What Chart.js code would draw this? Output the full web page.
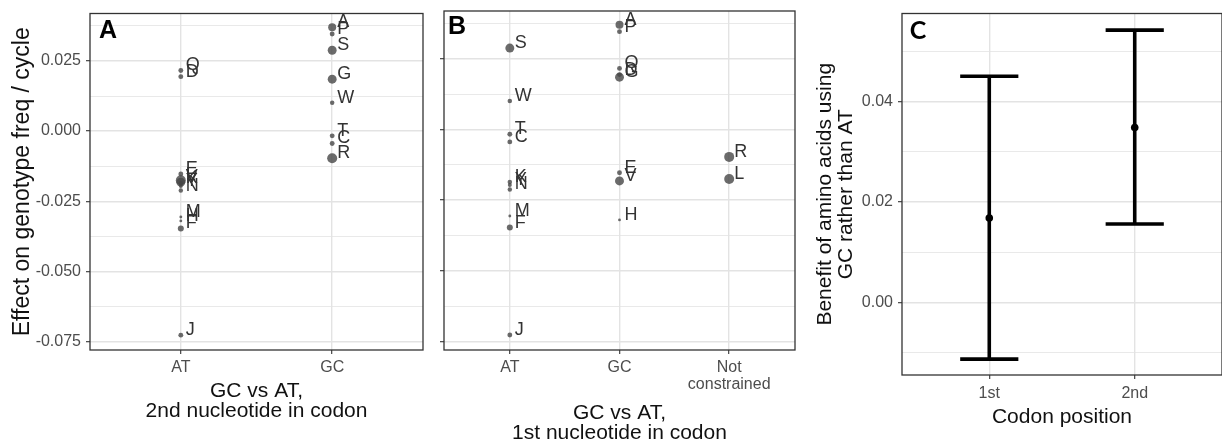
<!DOCTYPE html>
<html><head><meta charset="utf-8">
<script src="https://cdn.jsdelivr.net/npm/chart.js@4.4.1/dist/chart.umd.min.js"></script>
<style>
html,body{margin:0;padding:0;background:#fff;overflow:hidden;width:1222px;height:441px;}
.panel{position:absolute;top:0;height:441px;}
</style></head><body>
<div class="panel" style="left:0;width:440px"><canvas id="ca"></canvas></div>
<div class="panel" style="left:436px;width:364px"><canvas id="cb"></canvas></div>
<div class="panel" style="left:780px;width:446px"><canvas id="cc"></canvas></div>
<script>
// ---------------- data ----------------
const aminoAcids = ['A','P','S','Q','D','G','W','T','C','R','E','L','K','V','Y','N','M','H','F','J'];
const effect = [0.0370,0.0346,0.0288,0.0216,0.0194,0.0185,0.0101,-0.0017,-0.0044,-0.0097,-0.0153,-0.0175,-0.0186,-0.0182,-0.0196,-0.0212,-0.0306,-0.0320,-0.0347,-0.0727];
const weight = [16,6,20,6,6,20,5,6,6,25,6,25,5,20,4,5,2,2,9,6];
const secondNucleotide = ['GC','GC','GC','AT','AT','GC','GC','GC','GC','GC','AT','AT','AT','AT','AT','AT','AT','AT','AT','AT'];
const firstNucleotide = ['GC','GC','AT','GC','GC','GC','AT','AT','AT','Not constrained','GC','Not constrained','AT','GC','AT','AT','AT','GC','AT','AT'];
const categoriesA = ['AT','GC'];
const categoriesB = ['AT','GC','Not constrained'];
const tickLabelsA = ['AT','GC'];
const tickLabelsB = ['AT','GC',['Not','constrained']];
const effectMajorTicks = [-0.075,-0.05,-0.025,0,0.025];
const effectMinorTicks = [-0.0625,-0.0375,-0.0125,0.0125,0.0375];

const codonPositions = ['1st','2nd'];
const benefitMean = [0.0168,0.0348];
const benefitLow = [-0.0113,0.0156];
const benefitHigh = [0.0450,0.0542];
const benefitMajorTicks = [0,0.02,0.04];
const benefitMinorTicks = [-0.01,0.01,0.03,0.05];

// ---------------- helpers ----------------
const FONT = "'Liberation Sans', Arial, Helvetica, sans-serif";
const TICK_FONT = {family:FONT,size:16,lineHeight:'17px'};
const TITLE_FONT = {family:FONT,size:21,lineHeight:'20px'};
const isIn = (arr,v)=>arr.some(t=>Math.abs(t-v)<1e-9);

const framePlugin = {id:'frame', afterDraw(chart){
  const {ctx, chartArea:a} = chart; ctx.save();
  ctx.strokeStyle='#333'; ctx.lineWidth=1.3;
  ctx.strokeRect(a.left,a.top,a.right-a.left,a.bottom-a.top); ctx.restore();
}};
function letterPlugin(txt,x,y,family){ return {id:'letter'+txt, afterDraw(chart){
  const ctx=chart.ctx; ctx.save(); ctx.fillStyle='#000'; ctx.font='bold 25px '+family;
  ctx.textAlign='center'; ctx.textBaseline='middle'; ctx.fillText(txt,x,y); ctx.restore();
}};}
const labelPlugin = {id:'aaLabels', afterDatasetsDraw(chart){
  const ctx=chart.ctx; const ds=chart.data.datasets[0]; const meta=chart.getDatasetMeta(0);
  ctx.save(); ctx.fillStyle='#333'; ctx.font='18px '+FONT; ctx.textAlign='left'; ctx.textBaseline='middle';
  meta.data.forEach((el,i)=>{ ctx.fillText(ds.data[i].label, el.x+5, el.y-5); });
  ctx.restore();
}};

function yScale(min,max,major,minor,width,showLabels,fmt,title,titlePad,titleSize){
  return {type:'linear',min,max,
    afterBuildTicks:s=>{ s.ticks = major.concat(minor).sort((a,b)=>a-b).map(v=>({value:v})); },
    afterFit:s=>{ s.width=width; },
    ticks:{display:showLabels,autoSkip:false,padding:5,color:'#4d4d4d',font:TICK_FONT,
      callback:v=> isIn(major,v) ? v.toFixed(fmt) : ''},
    grid:{color:'#e3e3e3',lineWidth:c=> isIn(major,c.tick.value)?1.4:0.8,tickLength:4,
      tickColor:c=> isIn(major,c.tick.value)?'#333':'rgba(0,0,0,0)',tickWidth:1.1},
    border:{display:false},
    title: title ? {display:true,text:title,color:'#111',font:{family:FONT,size:titleSize,lineHeight:'21px'},padding:{top:titlePad,bottom:0}} : {display:false}
  };
}
function xScale(n,labels,height,title,titlePad,tickPad){
  return {type:'linear',min:0.4,max:n+0.6,
    afterBuildTicks:s=>{ s.ticks = labels.map((l,i)=>({value:i+1})); },
    afterFit:s=>{ s.height=height; },
    ticks:{autoSkip:false,maxRotation:0,padding:tickPad,color:'#4d4d4d',font:TICK_FONT,
      callback:v=> labels[Math.round(v)-1]},
    grid:{color:'#e3e3e3',lineWidth:1.4,tickLength:4,tickColor:'#333',tickWidth:1.1},
    border:{display:false},
    title:{display:true,text:title,color:'#111',font:TITLE_FONT,padding:{top:0,bottom:titlePad}}
  };
}
function scatterData(groups,cats){
  return aminoAcids.map((aa,i)=>({x:cats.indexOf(groups[i])+1,y:effect[i],label:aa}));
}
const common = {responsive:true,maintainAspectRatio:false,animation:false,devicePixelRatio:1,
  plugins:{legend:{display:false},tooltip:{enabled:false}}};

// ---------------- panel A ----------------
new Chart(document.getElementById('ca'),{type:'scatter',
  data:{datasets:[{data:scatterData(secondNucleotide,categoriesA),
    pointRadius:weight.map(w=>Math.sqrt(w)),backgroundColor:'rgba(70,70,70,0.8)',borderWidth:0}]},
  options:Object.assign({},common,{layout:{padding:{top:11,right:17,left:0,bottom:0}},
    scales:{x:xScale(2,tickLabelsA,91,['GC vs AT,','2nd nucleotide in codon'],20,5),
      y:yScale(-0.078,0.0419,effectMajorTicks,effectMinorTicks,90,true,3,'Effect on genotype freq / cycle',12,23)}}),
  plugins:[labelPlugin,framePlugin,letterPlugin('A',108,31,FONT)]});

// ---------------- panel B ----------------
new Chart(document.getElementById('cb'),{type:'scatter',
  data:{datasets:[{data:scatterData(firstNucleotide,categoriesB),
    pointRadius:weight.map(w=>Math.sqrt(w)),backgroundColor:'rgba(70,70,70,0.8)',borderWidth:0}]},
  options:Object.assign({},common,{layout:{padding:{top:11,right:4,left:0,bottom:0}},
    scales:{x:xScale(3,tickLabelsB,91,['GC vs AT,','1st nucleotide in codon'],-2,5),
      y:yScale(-0.078,0.0419,effectMajorTicks,effectMinorTicks,8,false,3,null,0,21)}}),
  plugins:[labelPlugin,framePlugin,letterPlugin('B',457-436,27,FONT)]});

// ---------------- panel C ----------------
const CAP = 0.2;
const cDatasets = [];
codonPositions.forEach((p,i)=>{
  const x=i+1;
  const line = {type:'scatter',showLine:true,pointRadius:0,borderColor:'#000',borderWidth:3.6,borderCapStyle:'butt'};
  cDatasets.push(Object.assign({data:[{x,y:benefitLow[i]},{x,y:benefitHigh[i]}]},line));
  cDatasets.push(Object.assign({data:[{x:x-CAP,y:benefitHigh[i]},{x:x+CAP,y:benefitHigh[i]}]},line));
  cDatasets.push(Object.assign({data:[{x:x-CAP,y:benefitLow[i]},{x:x+CAP,y:benefitLow[i]}]},line));
});
cDatasets.push({type:'scatter',data:codonPositions.map((p,i)=>({x:i+1,y:benefitMean[i]})),
  pointRadius:3.8,backgroundColor:'#000',borderWidth:0});
new Chart(document.getElementById('cc'),{type:'scatter',data:{datasets:cDatasets},
  options:Object.assign({},common,{layout:{padding:{top:13,right:0,left:0,bottom:0}},
    scales:{x:xScale(2,codonPositions,66,'Codon position',14,6),
      y:yScale(-0.01445,0.0575,benefitMajorTicks,benefitMinorTicks,122,true,2,['Benefit of amino acids using','GC rather than AT'],35,21)}}),
  plugins:[framePlugin,letterPlugin('C',918-780,31,"Lato, 'Open Sans', sans-serif")]});
</script></body></html>
